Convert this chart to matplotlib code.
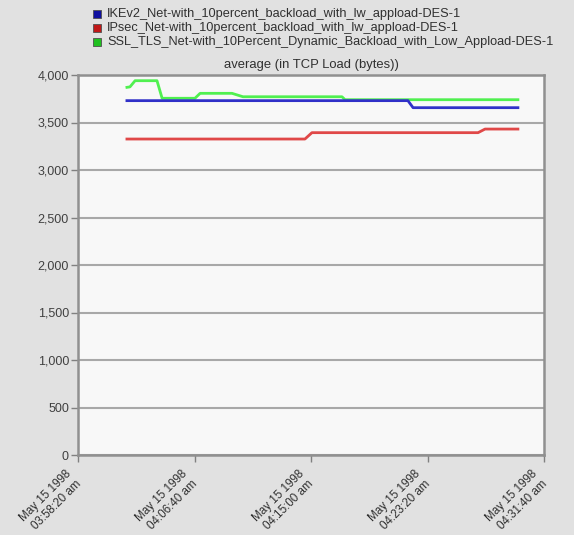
import matplotlib
matplotlib.use("Agg")
import matplotlib.pyplot as plt
from matplotlib.patches import Rectangle
import matplotlib.transforms as mtransforms

# seconds after 03:58:20 am
blue_t = [210, 1416, 1438, 1888]
blue_v = [3730, 3730, 3656, 3656]
red_t = [210, 974, 1004, 1717, 1747, 1888]
red_v = [3326, 3326, 3393, 3393, 3431, 3431]
green_t = [210, 223, 245, 339, 361, 502, 524, 661, 708, 1133, 1146, 1888]
green_v = [3870, 3875, 3940, 3940, 3755, 3755, 3807, 3807, 3771, 3771, 3740, 3740]

series_names = [
    "IKEv2_Net-with_10percent_backload_with_lw_appload-DES-1",
    "IPsec_Net-with_10percent_backload_with_lw_appload-DES-1",
    "SSL_TLS_Net-with_10Percent_Dynamic_Backload_with_Low_Appload-DES-1",
]
x_ticks = [0, 500, 1000, 1500, 2000]
x_labels = [
    "May 15 1998\n03:58:20 am",
    "May 15 1998\n04:06:40 am",
    "May 15 1998\n04:15:00 am",
    "May 15 1998\n04:23:20 am",
    "May 15 1998\n04:31:40 am",
]
y_ticks = [0, 500, 1000, 1500, 2000, 2500, 3000, 3500, 4000]
title = "average (in TCP Load (bytes))"

plt.rcParams['font.family'] = ['Liberation Sans', 'DejaVu Sans']
fig = plt.figure(figsize=(5.74, 5.35), dpi=100, facecolor='#e1e1e1')
ax = fig.add_axes([78/574, 1 - 455/535, 466/574, 380/535])
ax.set_facecolor('#f8f8f8')

line_cols = ['#3030c8', '#e04848', '#50f050']
box_cols = ['#1010a0', '#c01818', '#20c020']

ax.plot(red_t, red_v, color=line_cols[1], lw=2.0, zorder=3)
ax.plot(green_t, green_v, color=line_cols[2], lw=2.0, zorder=3)
ax.plot(blue_t, blue_v, color=line_cols[0], lw=2.0, zorder=4)

ax.set_xlim(0, 2000)
ax.set_ylim(0, 4000)
ax.set_yticks(y_ticks)
ax.set_yticklabels([f"{v:,}" for v in y_ticks], fontsize=9, color='#404040')
ax.set_xticks(x_ticks)
ax.set_xticklabels([''] * len(x_ticks))
shift = mtransforms.ScaledTranslation(-13/100, -13/100, fig.dpi_scale_trans)
for t, lab in zip(x_ticks, x_labels):
    ax.text(t, 0, lab, transform=ax.get_xaxis_transform() + shift,
            rotation=45, ha='right', va='top', rotation_mode='anchor',
            multialignment='right', fontsize=8.4, color='#303030',
            clip_on=False)
ax.tick_params(axis='both', color='#808080', length=5, width=1)
ax.tick_params(axis='y', pad=1.5)
ax.grid(axis='y', color='#a8a8a8', lw=1.5)
for s in ax.spines.values():
    s.set_color('#909090')
    s.set_linewidth(1.8)

# legend
for i, (name, c) in enumerate(zip(series_names, box_cols)):
    y = 1 - (13.5 + i * 14.5) / 535
    fig.patches.append(Rectangle((93/574, y - 4/535), 8/574, 8/535,
                                 transform=fig.transFigure, facecolor=c,
                                 edgecolor='#505050', lw=0.6))
    fig.text(107/574, y, name, fontsize=9.2, color='#303030', va='center', ha='left')

fig.text(311/574, 1 - 65/535, title, fontsize=9.4, color='#303030', ha='center', va='center')

fig.savefig('out.png', dpi=100, facecolor=fig.get_facecolor())
